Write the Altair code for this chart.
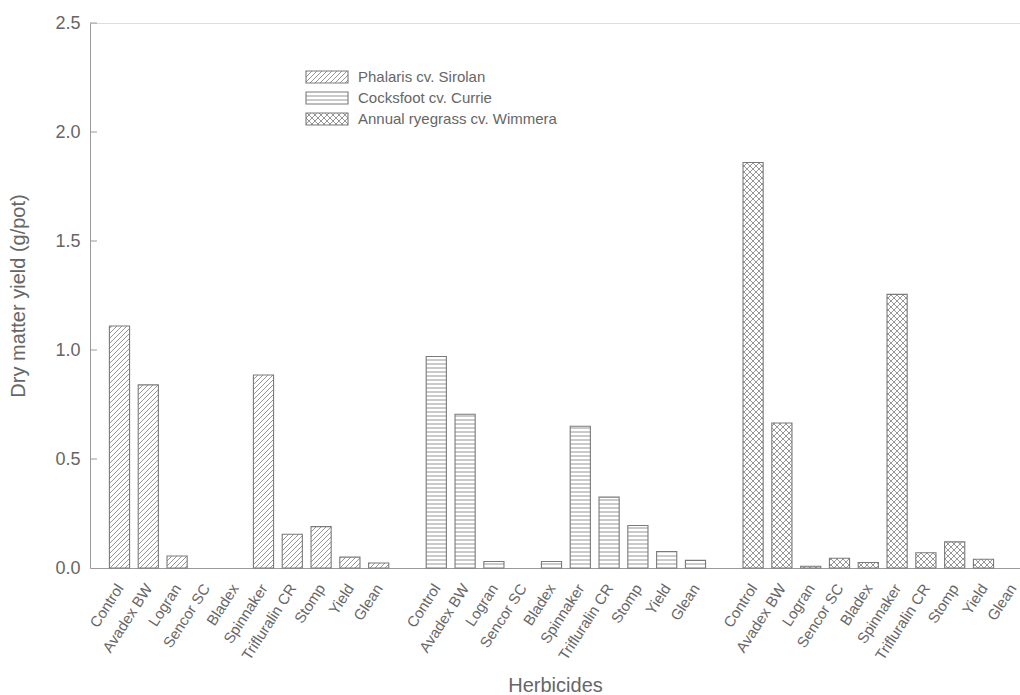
import math
import altair as alt
import pandas as pd

# ---------------- data ----------------
herbicides = ["Control", "Avadex BW", "Logran", "Sencor SC", "Bladex",
              "Spinnaker", "Trifluralin CR", "Stomp", "Yield", "Glean"]
series = ["Phalaris cv. Sirolan", "Cocksfoot cv. Currie", "Annual ryegrass cv. Wimmera"]
phalaris = [1.11, 0.84, 0.055, 0.0, 0.0, 0.885, 0.155, 0.19, 0.05, 0.023]
cocksfoot = [0.97, 0.705, 0.03, 0.0, 0.03, 0.65, 0.325, 0.195, 0.075, 0.035]
ryegrass = [1.86, 0.665, 0.008, 0.045, 0.025, 1.255, 0.07, 0.12, 0.04, 0.0]
y_ticks = [0.5, 1.0, 1.5, 2.0, 2.5]

# ---------------- layout ----------------
W, H = 930, 545
PX = 28.8                 # pixels per slot
XMIN = -1.024
XMAX = XMIN + W / PX
YMAX = 2.5
PY = H / YMAX
HALF = 0.35               # half bar width in slots
GREY = "#666666"
LINE = "#8a8a8a"
FONT = "Liberation Sans"

values_by_series = [phalaris, cocksfoot, ryegrass]
kinds = ["diag", "horiz", "cross"]

def to_px(x, y):
    return (x - XMIN) * PX, y * PY

def to_data(px, py):
    return XMIN + px / PX, py / PY

def hatch(x0, x1, y0, y1, kind):
    """segments (pixel space, y up) filling the rectangle"""
    segs = []
    if kind == "horiz":
        s = 4.0
        k = math.floor(y0 / s) + 1
        while k * s < y1 - 0.5:
            segs.append((x0, k * s, x1, k * s))
            k += 1
        return segs
    s = 5.0 if kind == "diag" else 6.0
    dirs = ["up"] if kind == "diag" else ["up", "down"]
    for d in dirs:
        if d == "up":  # y = x + b
            bmin, bmax = y0 - x1, y1 - x0
            k = math.ceil(bmin / s)
            while k * s <= bmax:
                b = k * s
                xa, xb = max(x0, y0 - b), min(x1, y1 - b)
                if xb - xa > 0.4:
                    segs.append((xa, xa + b, xb, xb + b))
                k += 1
        else:  # y = -x + b
            bmin, bmax = x0 + y0, x1 + y1
            k = math.ceil(bmin / s)
            while k * s <= bmax:
                b = k * s
                xa, xb = max(x0, b - y1), min(x1, b - y0)
                if xb - xa > 0.4:
                    segs.append((xa, b - xa, xb, b - xb))
                k += 1
    return segs

bar_rows, hatch_rows, tick_slots = [], [], []
for g, (vals, kind) in enumerate(zip(values_by_series, kinds)):
    for i, (name, v) in enumerate(zip(herbicides, vals)):
        slot = g * 11 + i
        tick_slots.append(slot)
        if v <= 0:
            continue
        left, right = slot - HALF, slot + HALF
        bar_rows.append({"left": left, "right": right, "value": v, "base": 0.0})
        x0, y0 = to_px(left, 0)
        x1, y1 = to_px(right, v)
        for (a, b, c, d) in hatch(x0, x1, y0, y1, kind):
            xa, ya = to_data(a, b)
            xb, yb = to_data(c, d)
            hatch_rows.append({"x": xa, "y": ya, "x2": xb, "y2": yb})

# legend (positioned in plot pixels, converted to data space)
leg_rows, leg_text = [], []
for r, (name, kind) in enumerate(zip(series, kinds)):
    top_rel = 48 + 21 * r
    bx0, bx1 = 216, 258
    by0, by1 = H - (top_rel + 12), H - top_rel
    xa, ya = to_data(bx0, by0)
    xb, yb = to_data(bx1, by1)
    leg_rows.append({"left": xa, "right": xb, "value": yb, "base": ya})
    for (a, b, c, d) in hatch(bx0, bx1, by0, by1, kind):
        p, q = to_data(a, b)
        s_, t = to_data(c, d)
        hatch_rows.append({"x": p, "y": q, "x2": s_, "y2": t})
    tx, ty = to_data(268, H - (top_rel + 6))
    leg_text.append({"x": tx, "y": ty, "label": name})

bars = pd.DataFrame(bar_rows + leg_rows)
hatches = pd.DataFrame(hatch_rows)
legend_text = pd.DataFrame(leg_text)
ticks_df = pd.DataFrame({"v": y_ticks})

label_js = "[" + ",".join("'" + h + "'" for h in herbicides) + "]"

xscale = alt.Scale(domain=[XMIN, XMAX], nice=False, zero=False)
yscale = alt.Scale(domain=[0, YMAX], nice=False)

xaxis = alt.Axis(values=tick_slots, labelExpr=label_js + "[datum.value % 11]",
                 ticks=False, grid=False, domainColor="#9a9a9a", labelColor=GREY,
                 labelFontSize=15, labelFont=FONT, labelAngle=-57, labelAlign="right",
                 labelBaseline="middle", labelPadding=17, labelOverlap=False,
                 labelFlush=False, labelSeparation=0, title="Herbicides", titleFont=FONT,
                 titleFontSize=20, titleFontWeight="normal", titleColor=GREY,
                 titleY=123, titleBaseline="alphabetic")
yaxis = alt.Axis(values=[0, 0.5, 1.0, 1.5, 2.0, 2.5], format=".1f", ticks=False,
                 grid=False, domainColor="#9a9a9a", labelColor=GREY, labelFontSize=18,
                 labelFont=FONT, labelPadding=10, title="Dry matter yield (g/pot)",
                 titleFont=FONT, titleFontSize=20, titleFontWeight="normal",
                 titleColor=GREY, titlePadding=26)

hatch_layer = alt.Chart(hatches).mark_rule(color=LINE, strokeWidth=0.9).encode(
    x=alt.X("x:Q", scale=xscale, axis=xaxis),
    y=alt.Y("y:Q", scale=yscale, axis=yaxis),
    x2="x2:Q", y2="y2:Q")

outline_layer = alt.Chart(bars).mark_rect(fillOpacity=0, stroke="#7a7a7a",
                                          strokeWidth=1.1).encode(
    x=alt.X("left:Q", scale=xscale, axis=xaxis), x2="right:Q",
    y=alt.Y("value:Q", scale=yscale, axis=yaxis), y2="base:Q")

tick_layer = alt.Chart(ticks_df).mark_rule(color="#9a9a9a", strokeWidth=1).encode(
    y=alt.Y("v:Q", scale=yscale, axis=yaxis), x=alt.value(0), x2=alt.value(7))

text_layer = alt.Chart(legend_text).mark_text(align="left", baseline="middle",
                                              font=FONT, fontSize=15, color=GREY).encode(
    x=alt.X("x:Q", scale=xscale, axis=xaxis), y=alt.Y("y:Q", scale=yscale, axis=yaxis),
    text="label:N")

chart = alt.layer(hatch_layer, outline_layer, tick_layer, text_layer).properties(
    width=W, height=H,
    autosize=alt.AutoSizeParams(type="none"),
    padding={"left": 90, "top": 23, "right": 0, "bottom": 127},
).configure_view(strokeWidth=0).configure(background="white").configure_axis(
    labelOverlap=False)

chart.save("out.html", embed_options={"renderer": "svg", "actions": False})
